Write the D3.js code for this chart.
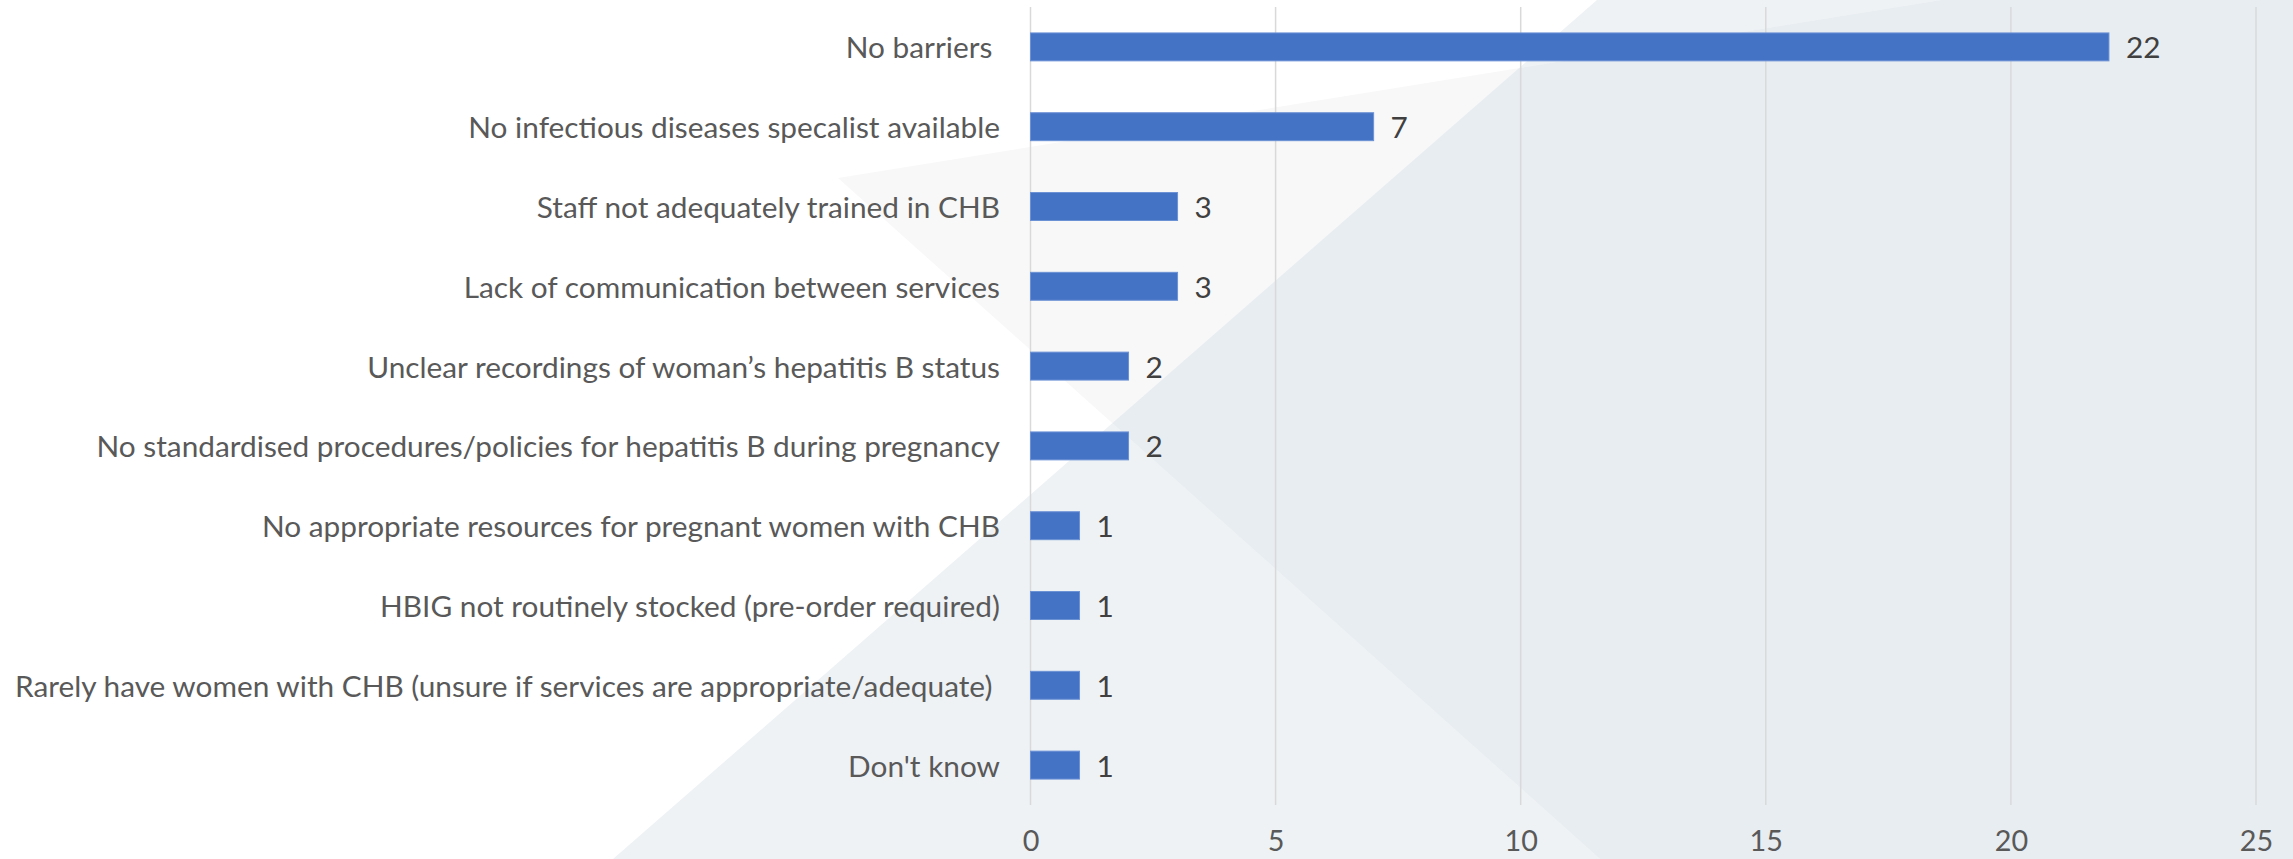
<!DOCTYPE html>
<html>
<head>
<meta charset="utf-8">
<script src="https://cdn.jsdelivr.net/npm/d3@7"></script>
<style>
  html, body { margin: 0; padding: 0; background: #ffffff; }
  svg { display: block; }
  text { white-space: pre; }
</style>
</head>
<body>
<svg id="chart" width="2293" height="859"></svg>
<script>
const categories = [
  "No barriers ",
  "No infectious diseases specalist available",
  "Staff not adequately trained in CHB",
  "Lack of communication between services",
  "Unclear recordings of woman’s hepatitis B status",
  "No standardised procedures/policies for hepatitis B during pregnancy",
  "No appropriate resources for pregnant women with CHB",
  "HBIG not routinely stocked (pre-order required)",
  "Rarely have women with CHB (unsure if services are appropriate/adequate) ",
  "Don't know"
];
const values = [22, 7, 3, 3, 2, 2, 1, 1, 1, 1];
const tickValues = [0, 5, 10, 15, 20, 25];

const W = 2293, H = 859;
const FONT = "Lato, 'Open Sans', sans-serif";
const svg = d3.select("#chart");

// decorative background shapes
const bg = svg.append("g");
const lineA = [[1597, 0], [2293, 0], [2293, H], [613, H]];
const wedge = [[838, 178], [1941, 0], [2293, 0], [2293, H], [1600, H]];
const lineGen = d3.line();
svg.append("defs").append("clipPath").attr("id", "clipA")
  .append("path").attr("d", lineGen(lineA) + "Z");
bg.append("path").attr("d", lineGen(lineA) + "Z").attr("fill", "#eef2f5");
bg.append("path").attr("d", lineGen(wedge) + "Z").attr("fill", "#f8f8f8");
bg.append("path").attr("d", lineGen(wedge) + "Z").attr("fill", "#e8edf1")
  .attr("clip-path", "url(#clipA)");

const x = d3.scaleLinear().domain([0, 25]).range([1030.5, 2256]);
const y = d3.scaleBand().domain(categories).range([7, 805])
  .paddingInner(0.65).paddingOuter(0.325);

// gridlines
svg.append("g").selectAll("line").data(tickValues).join("line")
  .attr("x1", d => x(d)).attr("x2", d => x(d))
  .attr("y1", 7).attr("y2", 805)
  .attr("stroke", "#d9d9d9").attr("stroke-width", 1.5);

// x axis labels
const axis = svg.append("g").attr("transform", "translate(0,805)")
  .call(d3.axisBottom(x).tickValues(tickValues).tickSize(0).tickFormat(d3.format("d")));
axis.select(".domain").remove();
axis.selectAll("text")
  .attr("y", 35).attr("dy", null)
  .attr("dominant-baseline", "central")
  .attr("font-family", FONT).attr("font-size", 28).attr("fill", "#595959");

// bars
svg.append("g").selectAll("rect").data(values).join("rect")
  .attr("x", x(0))
  .attr("y", (d, i) => y(categories[i]))
  .attr("width", d => x(d) - x(0))
  .attr("height", y.bandwidth())
  .attr("fill", "#4472C4")
  .attr("stroke", "#6b91d6").attr("stroke-width", 1);

// category labels
const catText = svg.append("g").selectAll("text").data(categories).join("text")
  .attr("x", 1000)
  .attr("y", d => y(d) + y.bandwidth() / 2)
  .attr("text-anchor", "end")
  .attr("dominant-baseline", "central")
  .attr("font-family", FONT).attr("font-size", 29).attr("fill", "#595959")
  .text(d => d);

// value labels
const valText = svg.append("g").selectAll("text").data(values).join("text")
  .attr("x", d => x(d) + 17)
  .attr("y", (d, i) => y(categories[i]) + y.bandwidth() / 2)
  .attr("text-anchor", "start")
  .attr("dominant-baseline", "central")
  .attr("font-family", FONT).attr("font-size", 29).attr("fill", "#404040")
  .text(d => d);

// condense text horizontally to approximate Calibri widths
const refNode = catText.nodes()[8];
const k = 985 / refNode.getComputedTextLength();
svg.selectAll("text").each(function () {
  const len = this.getComputedTextLength();
  d3.select(this).attr("textLength", len * k).attr("lengthAdjust", "spacingAndGlyphs");
});
</script>
</body>
</html>
